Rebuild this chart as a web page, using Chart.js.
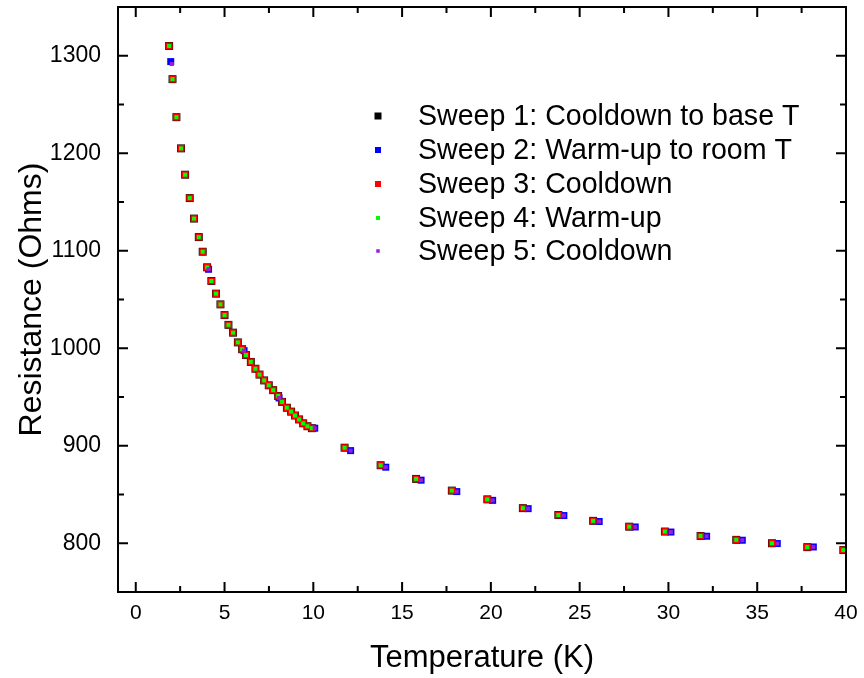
<!DOCTYPE html>
<html>
<head>
<meta charset="utf-8">
<script src="https://cdn.jsdelivr.net/npm/chart.js@4.4.1/dist/chart.umd.min.js"></script>
<style>
  html, body { margin: 0; padding: 0; background: #fff; }
  #wrap { width: 864px; height: 678px; position: relative; }
</style>
</head>
<body>
<div id="wrap"><canvas id="c" width="864" height="678"></canvas></div>
<script>
// ---- Data ----
const seriesNames = [
  'Sweep 1: Cooldown to base T',
  'Sweep 2: Warm-up to room T',
  'Sweep 3: Cooldown',
  'Sweep 4: Warm-up',
  'Sweep 5: Cooldown'
];
const seriesColors = ['#000000', '#0000ff', '#ff0000', '#00ff00', '#9a1ed6'];

// Sweeps 1, 3, 4 (dense, overlapping)
const coolTemp = [1.88, 2.07, 2.29, 2.55, 2.78, 3.04, 3.28, 3.55, 3.77, 4.02, 4.26, 4.52, 4.77, 5.0, 5.22, 5.48, 5.75, 5.99, 6.21, 6.48, 6.74, 6.97, 7.23, 7.49, 7.74, 8.02, 8.24, 8.51, 8.75, 8.97, 9.2, 9.43, 9.67, 9.92,
  11.76, 13.79, 15.79, 17.8, 19.8, 21.8, 23.8, 25.76, 27.79, 29.8, 31.81, 33.82, 35.83, 37.82, 39.85];
const coolRes = [1310, 1276, 1237, 1205, 1178, 1154, 1133, 1114, 1099, 1083, 1069, 1056, 1045, 1034, 1024, 1016, 1006, 999, 993, 986, 979, 973, 967, 962, 957, 951, 945, 939, 935, 931, 927, 923, 920, 918,
  898, 880, 866, 854, 845, 836, 829, 823, 817, 812, 807.5, 803.5, 800, 796, 793];

// Sweep 2 (warm-up to room T)
const warmTemp = [1.97, 4.1, 6.1, 8.07, 10.08, 12.1, 14.08, 16.07, 18.08, 20.1, 22.1, 24.11, 26.1, 28.13, 30.14, 32.15, 34.16, 36.13, 38.16];
const warmRes = [1294, 1081, 997.5, 949, 918, 895, 878, 864.7, 853, 844, 835.5, 828.4, 822.3, 816.7, 811.5, 807.2, 803.1, 799.7, 796.2];

// Sweep 5
const sweep5Temp = [2.03, 4.1, 6.1, 8.07, 10.08, 12.1, 14.08, 16.07, 18.08, 20.1, 22.1, 24.11, 26.1, 28.13, 30.14, 32.15, 34.16, 36.13, 38.16];
const sweep5Res = [1291.5, 1081, 997.5, 949, 918, 895, 878, 864.7, 853, 844, 835.5, 828.4, 822.3, 816.7, 811.5, 807.2, 803.1, 799.7, 796.2];

const xTickValues = [0, 5, 10, 15, 20, 25, 30, 35, 40];
const xMinorValues = [2.5, 7.5, 12.5, 17.5, 22.5, 27.5, 32.5, 37.5];
const yTickValues = [800, 900, 1000, 1100, 1200, 1300];
const yMinorValues = [850, 950, 1050, 1150, 1250];

// ---- Build datasets ----
function pts(xs, ys) { return xs.map((x, i) => ({ x: x, y: ys[i] })); }
const seriesPoints = [
  pts(coolTemp, coolRes),
  pts(warmTemp, warmRes),
  pts(coolTemp, coolRes),
  pts(coolTemp, coolRes),
  pts(sweep5Temp, sweep5Res)
];
const markerRadius = [5.6, 4.95, 4.95, 2.83, 2.83];
const legendMarkerSide = [7, 6, 6, 4, 3.5];

const datasets = seriesNames.map((name, i) => ({
  label: name,
  data: seriesPoints[i],
  showLine: false,
  pointStyle: 'rect',
  pointRadius: markerRadius[i],
  pointHoverRadius: markerRadius[i],
  pointBackgroundColor: seriesColors[i],
  pointBorderWidth: 0,
  borderColor: seriesColors[i],
  backgroundColor: seriesColors[i],
  order: 5 - i
}));

const FONT = "'Liberation Sans', Arial, sans-serif";

const frameTicks = {
  id: 'frameTicks',
  afterDatasetsDraw(chart) {
    const { ctx, chartArea: a, scales: { x, y } } = chart;
    ctx.save();
    ctx.strokeStyle = '#000';
    ctx.lineWidth = 2;
    ctx.beginPath();
    const major = 10, minor = 6;
    xTickValues.forEach(v => {
      const px = x.getPixelForValue(v);
      ctx.moveTo(px, a.bottom); ctx.lineTo(px, a.bottom - major);
      ctx.moveTo(px, a.top); ctx.lineTo(px, a.top + major);
    });
    xMinorValues.forEach(v => {
      const px = x.getPixelForValue(v);
      ctx.moveTo(px, a.bottom); ctx.lineTo(px, a.bottom - minor);
      ctx.moveTo(px, a.top); ctx.lineTo(px, a.top + minor);
    });
    yTickValues.forEach(v => {
      const py = y.getPixelForValue(v);
      ctx.moveTo(a.left, py); ctx.lineTo(a.left + major, py);
      ctx.moveTo(a.right, py); ctx.lineTo(a.right - major, py);
    });
    yMinorValues.forEach(v => {
      const py = y.getPixelForValue(v);
      ctx.moveTo(a.left, py); ctx.lineTo(a.left + minor, py);
      ctx.moveTo(a.right, py); ctx.lineTo(a.right - minor, py);
    });
    ctx.stroke();
    ctx.strokeRect(a.left, a.top, a.right - a.left, a.bottom - a.top);
    ctx.restore();
  }
};

const insideLegend = {
  id: 'insideLegend',
  afterDraw(chart) {
    const ctx = chart.ctx;
    ctx.save();
    ctx.font = '28.6px ' + FONT;
    ctx.textBaseline = 'middle';
    ctx.fillStyle = '#000';
    const rowY = [116, 150, 184, 218, 251];
    chart.data.datasets.forEach((ds, i) => {
      const s = legendMarkerSide[i];
      ctx.fillStyle = ds.pointBackgroundColor;
      ctx.fillRect(378 - s / 2, rowY[i] - s / 2, s, s);
      ctx.fillStyle = '#000';
      ctx.fillText(ds.label, 418, rowY[i] + 1);
    });
    ctx.restore();
  }
};

new Chart(document.getElementById('c'), {
  type: 'scatter',
  data: { datasets: datasets },
  options: {
    responsive: false,
    animation: false,
    devicePixelRatio: 1,
    layout: { padding: { top: 7, right: 18, left: 0, bottom: 0 } },
    plugins: { legend: { display: false }, tooltip: { enabled: false } },
    scales: {
      x: {
        type: 'linear', position: 'bottom', min: -1, max: 40,
        afterBuildTicks(s) { s.ticks = xTickValues.map(v => ({ value: v })); },
        afterFit(s) { s.height = 86; s.paddingLeft = 0; s.paddingRight = 0; },
        grid: { display: false, drawTicks: false },
        border: { display: false },
        ticks: { color: '#000', font: { family: FONT, size: 21 }, padding: 9, maxRotation: 0, autoSkip: false,
                 callback: v => String(v) },
        title: { display: true, text: 'Temperature (K)', color: '#000', font: { family: FONT, size: 31 }, padding: { top: 0, bottom: 1 } }
      },
      y: {
        type: 'linear', position: 'left', min: 750, max: 1350,
        afterBuildTicks(s) { s.ticks = yTickValues.map(v => ({ value: v })); },
        afterFit(s) { s.width = 118; s.paddingTop = 0; s.paddingBottom = 0; },
        grid: { display: false, drawTicks: false },
        border: { display: false },
        ticks: { color: '#000', font: { family: FONT, size: 23 }, padding: 17, autoSkip: false,
                 callback: v => String(v) },
        title: { display: true, text: 'Resistance (Ohms)', color: '#000', font: { family: FONT, size: 32 }, padding: { top: 13, bottom: 0 } }
      }
    }
  },
  plugins: [frameTicks, insideLegend]
});
</script>
</body>
</html>
